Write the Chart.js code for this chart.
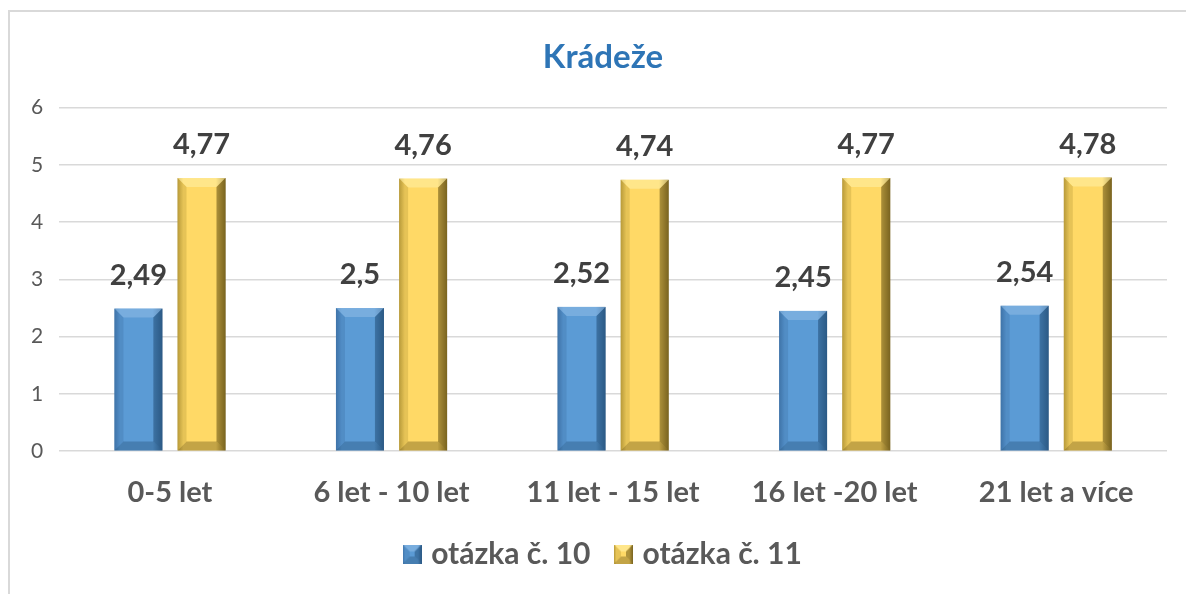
<!DOCTYPE html>
<html>
<head>
<meta charset="utf-8">
<script src="https://cdn.jsdelivr.net/npm/chart.js@4.4.1/dist/chart.umd.min.js"></script>
<style>
  html, body { margin: 0; padding: 0; background: #fff; }
  #wrap { position: relative; width: 1186px; height: 594px; overflow: hidden; }
  #frame { position: absolute; left: 8px; top: 10px; width: 1300px; height: 700px; border: 2px solid #d9d9d9; }
  canvas { position: absolute; left: 0; top: 0; }
</style>
</head>
<body>
<div id="wrap">
  <div id="frame"></div>
  <canvas id="chart" width="1186" height="594"></canvas>
</div>
<script>
// data
const categories = ['0-5 let', '6 let - 10 let', '11 let - 15 let', '16 let -20 let', '21 let a více'];
const q10 = [2.49, 2.5, 2.52, 2.45, 2.54];
const q11 = [4.77, 4.76, 4.74, 4.77, 4.78];
const seriesNames = ['otázka č. 10', 'otázka č. 11'];
const yTicks = [0, 1, 2, 3, 4, 5, 6];

const FONT = 'Lato, "Open Sans", sans-serif';
const TEXT = '#595959';

// colour sets for the bevelled bars
const blue = { base: '#5b9bd5', light: '#8fbbe6', dark: '#2c5a86', edge: '#3f74a8' };
const gold = { base: '#ffd966', light: '#fff0a8', dark: '#7a6420', edge: '#b89a3a' };

function paintBevel(ctx, x0, y0, x1, y1, c, b) {
  const w = x1 - x0;
  const g = ctx.createLinearGradient(x0, 0, x1, 0);
  g.addColorStop(0, c.edge);
  g.addColorStop(0.12, c.base);
  g.addColorStop(0.8, c.base);
  g.addColorStop(1, c.dark);
  ctx.fillStyle = g;
  ctx.fillRect(x0, y0, w, y1 - y0);
  // top face
  ctx.fillStyle = c.light;
  ctx.globalAlpha = 0.55;
  ctx.beginPath();
  ctx.moveTo(x0, y0); ctx.lineTo(x1, y0); ctx.lineTo(x1 - b, y0 + b); ctx.lineTo(x0 + b, y0 + b);
  ctx.closePath(); ctx.fill();
  // right face
  ctx.fillStyle = c.dark;
  ctx.globalAlpha = 0.6;
  ctx.beginPath();
  ctx.moveTo(x1, y0); ctx.lineTo(x1, y1); ctx.lineTo(x1 - b, y1 - b); ctx.lineTo(x1 - b, y0 + b);
  ctx.closePath(); ctx.fill();
  // bottom face
  ctx.globalAlpha = 0.45;
  ctx.beginPath();
  ctx.moveTo(x0, y1); ctx.lineTo(x1, y1); ctx.lineTo(x1 - b, y1 - b); ctx.lineTo(x0 + b, y1 - b);
  ctx.closePath(); ctx.fill();
  // left face
  ctx.fillStyle = c.edge;
  ctx.globalAlpha = 0.35;
  ctx.beginPath();
  ctx.moveTo(x0, y0); ctx.lineTo(x0 + b, y0 + b); ctx.lineTo(x0 + b, y1 - b); ctx.lineTo(x0, y1);
  ctx.closePath(); ctx.fill();
  ctx.globalAlpha = 1;
}

function legendIcon(c) {
  const cv = document.createElement('canvas');
  cv.width = 19; cv.height = 19;
  paintBevel(cv.getContext('2d'), 0, 0, 19, 19, c, 7);
  return cv;
}

const bevelBars = {
  id: 'bevelBars',
  afterLayout(chart) {
    // title and legend sit a bit right of the canvas centre in the original
    chart.titleBlock.left += 12; chart.titleBlock.right += 12;
    chart.legend.left += 14; chart.legend.right += 14;
  },
  afterDatasetsDraw(chart) {
    const ctx = chart.ctx;
    const sets = [blue, gold];
    ctx.save();
    chart.data.datasets.forEach((ds, i) => {
      chart.getDatasetMeta(i).data.forEach((bar, j) => {
        const x0 = bar.x - bar.width / 2, x1 = bar.x + bar.width / 2;
        paintBevel(ctx, x0, bar.y, x1, bar.base, sets[i], 9);
        ctx.fillStyle = '#404040';
        ctx.font = 'bold 29px ' + FONT;
        ctx.textAlign = 'center';
        ctx.textBaseline = 'middle';
        ctx.fillText(String(ds.data[j]).replace('.', ','), bar.x, bar.y - 33);
      });
    });
    ctx.restore();
  }
};

new Chart(document.getElementById('chart'), {
  type: 'bar',
  data: {
    labels: categories,
    datasets: [
      { label: seriesNames[0], data: q10, backgroundColor: 'rgba(0,0,0,0)', pointStyle: legendIcon(blue) },
      { label: seriesNames[1], data: q11, backgroundColor: 'rgba(0,0,0,0)', pointStyle: legendIcon(gold) }
    ]
  },
  options: {
    responsive: false,
    animation: false,
    devicePixelRatio: 1,
    categoryPercentage: 0.57,
    barPercentage: 0.76,
    layout: { padding: { left: 15, right: 19, top: 38, bottom: 15 } },
    plugins: {
      title: {
        display: true,
        text: 'Krádeže',
        color: '#2e75b6',
        font: { family: FONT, size: 33, weight: 'bold' },
        padding: { top: 0, bottom: 30 }
      },
      legend: {
        position: 'bottom',
        labels: {
          usePointStyle: true,
          pointStyleWidth: 8,
          color: TEXT,
          font: { family: FONT, size: 30, weight: 'bold' },
          padding: 29,
          boxHeight: 19
        }
      },
      tooltip: { enabled: false }
    },
    scales: {
      x: {
        grid: { display: false, drawTicks: false },
        border: { display: false },
        ticks: { color: TEXT, font: { family: FONT, size: 29, weight: 'bold' }, padding: 24 },
        afterFit(scale) { scale.height -= 24; }
      },
      y: {
        min: 0,
        max: 6,
        afterBuildTicks(axis) { axis.ticks = yTicks.map(v => ({ value: v })); },
        grid: { color: '#d9d9d9', lineWidth: 1.5, drawTicks: false },
        border: { display: false },
        ticks: { color: TEXT, font: { family: FONT, size: 21 }, padding: 16 }
      }
    }
  },
  plugins: [bevelBars]
});
</script>
</body>
</html>
